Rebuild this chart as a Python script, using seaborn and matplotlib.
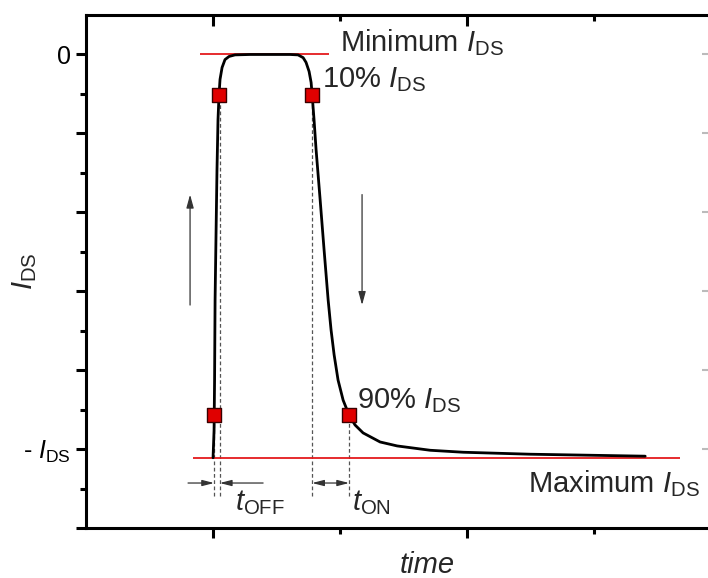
import matplotlib
matplotlib.use("Agg")
import matplotlib.pyplot as plt
import seaborn as sns
from matplotlib.ticker import FixedLocator, NullFormatter

# switching curve (time in tick units, current normalised to I_DS)
curve_t = [1.000, 1.008, 1.012, 1.016, 1.024, 1.031, 1.039, 1.047, 1.055, 1.071,
           1.094, 1.126, 1.173, 1.291, 1.606, 1.669, 1.709, 1.732, 1.756, 1.772,
           1.780, 1.795, 1.811, 1.843, 1.874, 1.906, 1.929, 1.953, 1.984, 2.024,
           2.071, 2.118, 2.181, 2.315, 2.449, 2.709, 2.969, 3.496, 4.402]
curve_i = [-1.022, -0.952, -0.825, -0.622, -0.444, -0.292, -0.165, -0.102, -0.063, -0.033,
           -0.013, -0.005, -0.001, 0.000, 0.000, -0.001, -0.008, -0.020, -0.043, -0.071,
           -0.102, -0.165, -0.241, -0.368, -0.495, -0.622, -0.698, -0.761, -0.825, -0.876,
           -0.914, -0.939, -0.959, -0.982, -0.992, -1.003, -1.008, -1.013, -1.018]

# 10% / 90% points
mark_t = [1.047, 1.008, 1.780, 2.071]
mark_i = [-0.102, -0.914, -0.102, -0.914]

i_min = 0.0
i_max = -1.023
min_span = [0.898, 1.913]
max_span = [0.843, 4.677]
dash_bottom = -1.119
arrow_y = -1.086

ytick_vals = [0, -1]
ytick_text = ["0", r"- $\mathit{I}_{\mathrm{DS}}$"]

sns.set_style("ticks")
plt.rcParams["font.family"] = ["Liberation Sans", "DejaVu Sans"]
plt.rcParams["mathtext.fontset"] = "custom"
plt.rcParams["mathtext.rm"] = "Liberation Sans"
plt.rcParams["mathtext.it"] = "Liberation Sans:italic"

fig = plt.figure(figsize=(7.08, 5.78), dpi=100)
ax = fig.add_axes([0.1215, 0.0865, 0.8815, 0.8875])

red = "#e41a1c"
ax.hlines(i_min, min_span[0], min_span[1], color=red, lw=1.3, zorder=2)
ax.hlines(i_max, max_span[0], max_span[1], color=red, lw=1.3, zorder=2)

# dashed guides from the marks down to the arrows
for t, i in zip(mark_t, mark_i):
    ax.vlines(t + (0.006 if t < 1.1 and i > -0.5 else 0), dash_bottom, i,
              colors="#555555", linestyles=(0, (3, 2)), lw=0.9, zorder=1)

sns.lineplot(x=curve_t, y=curve_i, sort=False, estimator=None, color="black",
             lw=2.0, ax=ax, zorder=3)
sns.scatterplot(x=mark_t, y=mark_i, marker="s", s=90, color="#e00000",
                edgecolor="#3a0000", linewidth=1.0, ax=ax, zorder=5)

ap = dict(arrowstyle="-|>,head_length=0.7,head_width=0.18", color="#333333",
          lw=0.9, shrinkA=0, shrinkB=0)
ax.annotate("", xy=(mark_t[1], arrow_y), xytext=(0.803, arrow_y), arrowprops=ap)
ax.annotate("", xy=(mark_t[0] + 0.006, arrow_y), xytext=(1.394, arrow_y), arrowprops=ap)
ap2 = dict(ap)
ap2["arrowstyle"] = "<|-|>,head_length=0.7,head_width=0.18"
ax.annotate("", xy=(mark_t[3], arrow_y), xytext=(mark_t[2], arrow_y), arrowprops=ap2)

apv = dict(arrowstyle="-|>,head_length=0.8,head_width=0.22", color="#333333",
           lw=0.9, shrinkA=0, shrinkB=0)
ax.annotate("", xy=(0.819, -0.355), xytext=(0.819, -0.635), arrowprops=apv)
ax.annotate("", xy=(2.173, -0.635), xytext=(2.173, -0.355), arrowprops=apv)

fs = 21
ax.text(2.0, 0.008, r"Minimum $\mathit{I}_{\mathrm{DS}}$", fontsize=fs, va="baseline")
ax.text(1.858, -0.084, r"10% $\mathit{I}_{\mathrm{DS}}$", fontsize=fs, va="baseline")
ax.text(2.134, -0.896, r"90% $\mathit{I}_{\mathrm{DS}}$", fontsize=fs, va="baseline")
ax.text(3.480, -1.109, r"Maximum $\mathit{I}_{\mathrm{DS}}$", fontsize=fs, va="baseline")
ax.text(1.173, -1.155, r"$\mathit{t}_{\mathrm{OFF}}$", fontsize=fs, va="baseline")
ax.text(2.094, -1.155, r"$\mathit{t}_{\mathrm{ON}}$", fontsize=fs, va="baseline")

ax.set_xlim(0, 4.913)
ax.set_ylim(-1.2, 0.1)

ax.set_yticks(ytick_vals + [-0.2, -0.4, -0.6, -0.8, -1.2])
ax.set_yticklabels(ytick_text + [""] * 5)
ax.yaxis.set_minor_locator(FixedLocator([-0.1, -0.3, -0.5, -0.7, -0.9, -1.1]))
ax.set_xticks([1, 3])
ax.xaxis.set_major_formatter(NullFormatter())
ax.xaxis.set_minor_locator(FixedLocator([2, 4]))
ax.tick_params(which="major", direction="out", length=7, width=2.2, labelsize=18,
               top=False, right=False, pad=4, colors="black")
ax.tick_params(which="minor", direction="out", length=4, width=2.2,
               top=False, right=False, colors="black")

for s in ax.spines.values():
    s.set_linewidth(2.2)
    s.set_color("black")
ax.spines["right"].set_color("#bbbbbb")

# inward ticks along the top edge, drawn as short segments at the x tick positions
top_major = [1, 3]
top_minor = [2, 4]
ax.vlines(top_major, 0.1 - 0.028, 0.1, colors="black", lw=2.2, zorder=6, clip_on=False)
ax.vlines(top_minor, 0.1 - 0.016, 0.1, colors="black", lw=2.2, zorder=6, clip_on=False)

axr = ax.twinx()
axr.set_ylim(ax.get_ylim())
axr.set_yticks([0, -0.2, -0.4, -0.6, -0.8, -1.0])
axr.yaxis.set_major_formatter(NullFormatter())
axr.tick_params(axis="y", which="major", direction="in", length=6, width=1.5,
                right=True, left=False, color="#bbbbbb")
for s in axr.spines.values():
    s.set_visible(False)

ax.set_xlabel("time", fontsize=fs, style="italic")
ax.xaxis.set_label_coords(0.546, -0.045)
ax.set_ylabel(r"$\mathit{I}_{\mathrm{DS}}$", fontsize=fs)
ax.yaxis.set_label_coords(-0.075, 0.5)

fig.savefig("out.png", dpi=100)
